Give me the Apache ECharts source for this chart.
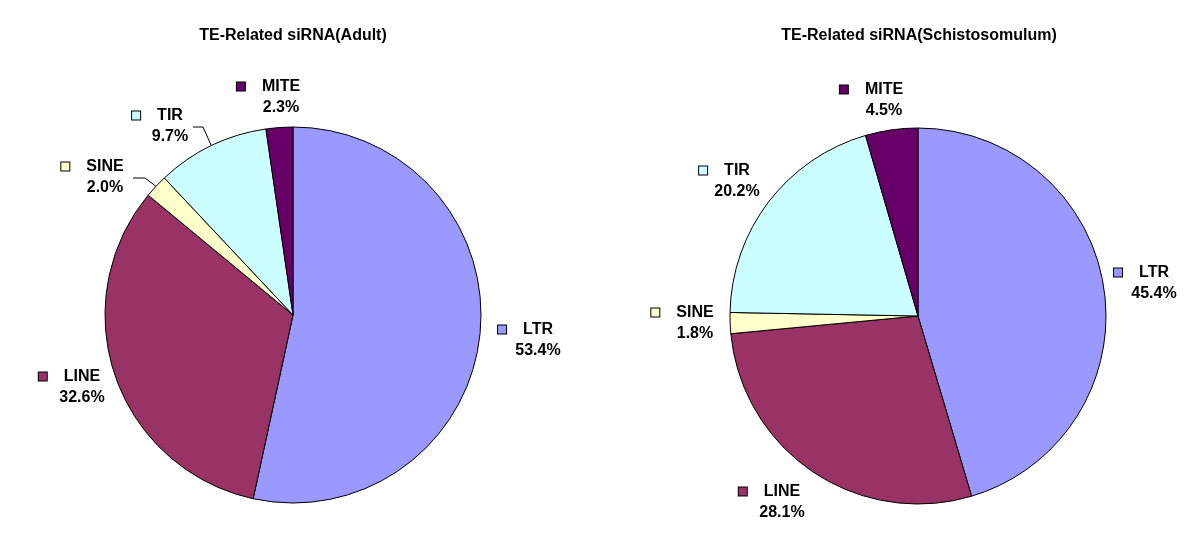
<!DOCTYPE html>
<html>
<head>
<meta charset="utf-8">
<script src="https://cdn.jsdelivr.net/npm/echarts@6/dist/echarts.min.js"></script>
<style>
html, body { margin: 0; padding: 0; background: #fff; }
.main { width: 1201px; height: 534px; }
</style>
</head>
<body>
<div class="main"></div>
<script>
var categories = ['LTR', 'LINE', 'SINE', 'TIR', 'MITE'];
var adultValues = [53.4, 32.6, 2.0, 9.7, 2.3];
var schistoValues = [45.4, 28.1, 1.8, 20.2, 4.5];
var chartTitles = ['TE-Related siRNA(Adult)', 'TE-Related siRNA(Schistosomulum)'];

var sliceColors = ['#9999FF', '#993366', '#FFFFCC', '#CCFFFF', '#660066'];
var font = 'Arial, "Liberation Sans", sans-serif';

// where each label block sits (centre), per chart then category
var labelPos = [
    [[538, 340], [82, 387], [105, 177], [170, 126], [281, 97]],
    [[1154, 283], [782, 502], [695, 323], [737, 181], [884, 100]]
];
// leader lines in the left chart: x offsets of line end / bend from label centre
var leaders = {'0-2': [28, 40], '0-3': [23, 33]};

var myChart = echarts.init(document.querySelector('.main'));

var rich = {
    nm: {fontFamily: font, fontSize: 16, fontWeight: 'bold', color: '#000', lineHeight: 21},
    pc: {fontFamily: font, fontSize: 16, fontWeight: 'bold', color: '#000', lineHeight: 21},
    gap: {width: 17},
    pad: {width: 25}
};
sliceColors.forEach(function (c, i) {
    rich['sq' + i] = {width: 8, height: 8, backgroundColor: c, borderColor: '#000', borderWidth: 1};
});

function pieSeries(idx, values, center) {
    return {
        type: 'pie',
        radius: 188,
        center: center,
        startAngle: 90,
        clockwise: true,
        avoidLabelOverlap: false,
        silent: true,
        animation: false,
        itemStyle: {borderColor: '#000', borderWidth: 1},
        data: categories.map(function (name, i) {
            return {
                name: name,
                value: values[i],
                itemStyle: {color: sliceColors[i]},
                labelLine: {show: !!leaders[idx + '-' + i]}
            };
        }),
        label: {
            show: true,
            position: 'outside',
            formatter: function (p) {
                return '{sq' + p.dataIndex + '|}{gap|}{nm|' + p.name + '}{pad|}\n{pc|' + p.value.toFixed(1) + '%}';
            },
            rich: rich
        },
        labelLine: {show: false, length: 10, length2: 10, lineStyle: {color: '#000', width: 1}},
        labelLayout: function (p) {
            var pos = labelPos[idx][p.dataIndex];
            var res = {x: pos[0], y: pos[1], align: 'center', verticalAlign: 'middle'};
            var ld = leaders[idx + '-' + p.dataIndex];
            if (ld && p.labelLinePoints) {
                var edge = p.labelLinePoints[0];
                res.labelLinePoints = [
                    [edge[0], edge[1]],
                    [pos[0] + ld[1], pos[1] + 1],
                    [pos[0] + ld[0], pos[1] + 1]
                ];
            }
            return res;
        }
    };
}

option = {
    backgroundColor: '#fff',
    graphic: [
        {type: 'text', x: 293, y: 36, style: {text: chartTitles[0], align: 'center', verticalAlign: 'middle', font: 'bold 16px ' + font, fill: '#000'}},
        {type: 'text', x: 919, y: 36, style: {text: chartTitles[1], align: 'center', verticalAlign: 'middle', font: 'bold 16px ' + font, fill: '#000'}}
    ],
    series: [
        pieSeries(0, adultValues, [293, 315]),
        pieSeries(1, schistoValues, [918, 316])
    ]
};

myChart.setOption(option);
</script>
</body>
</html>
